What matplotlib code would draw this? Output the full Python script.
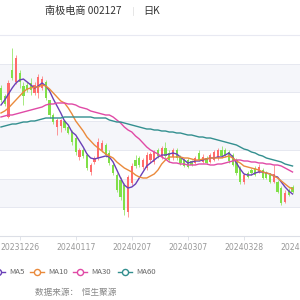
import numpy as np
import matplotlib
matplotlib.use("Agg")
import matplotlib.pyplot as plt
from matplotlib.lines import Line2D

plt.rcParams['font.family'] = ['Noto Sans CJK SC', 'DejaVu Sans']

# bar index 0 = 20231226, ticks every 15 trading days
bar_idx = np.arange(-5, 74)
tick_idx = [0, 15, 30, 45, 60, 75]
tick_labels = ["20231226", "20240117", "20240207", "20240307", "20240328", "20240419"]

opens = [4.61, 4.53, 4.32, 4.79, 4.67, 4.76, 4.63, 4.64, 4.66, 4.56,
         4.56, 4.61, 4.67, 4.49, 4.34, 4.22, 4.23, 4.28, 4.22, 4.17,
         4.11, 3.92, 3.99, 3.94, 3.77, 3.87, 3.91, 3.99, 4.04, 3.96,
         3.84, 3.74, 3.69, 3.64, 3.37, 3.66, 3.89, 3.91, 3.82, 3.81,
         3.89, 3.87, 3.99, 3.92, 4.01, 3.96, 3.92, 3.99, 3.92, 3.89,
         3.89, 3.88, 3.86, 3.96, 3.87, 3.91, 3.87, 3.89, 3.91, 3.99,
         3.99, 3.97, 3.94, 3.89, 3.81, 3.67, 3.76, 3.79, 3.81, 3.77,
         3.79, 3.76, 3.74, 3.67, 3.67, 3.61, 3.47, 3.59, 3.62]
closes = [4.49, 4.45, 4.66, 4.71, 4.91, 4.67, 4.53, 4.59, 4.59, 4.64,
          4.72, 4.70, 4.51, 4.34, 4.27, 4.29, 4.29, 4.21, 4.16, 4.07,
          3.97, 3.99, 3.93, 3.81, 3.84, 3.91, 4.07, 4.06, 3.94, 3.86,
          3.76, 3.59, 3.52, 3.39, 3.72, 3.83, 3.83, 3.84, 3.89, 3.94,
          3.95, 3.97, 3.93, 4.01, 3.93, 3.89, 3.99, 3.91, 3.86, 3.83,
          3.82, 3.84, 3.91, 3.89, 3.92, 3.86, 3.94, 3.97, 3.99, 3.93,
          3.94, 3.88, 3.84, 3.76, 3.67, 3.74, 3.72, 3.76, 3.74, 3.82,
          3.71, 3.71, 3.67, 3.75, 3.57, 3.46, 3.56, 3.54, 3.57]
highs = [4.64, 4.55, 4.69, 5.01, 4.94, 4.79, 4.67, 4.67, 4.71, 4.67,
         4.75, 4.73, 4.69, 4.49, 4.36, 4.31, 4.30, 4.29, 4.24, 4.19,
         4.13, 4.01, 4.01, 3.96, 3.86, 3.93, 4.11, 4.09, 4.06, 3.99,
         3.86, 3.76, 3.72, 3.66, 3.74, 3.86, 3.94, 3.93, 3.91, 3.97,
         3.97, 3.99, 4.01, 4.03, 4.07, 3.99, 4.01, 4.01, 3.94, 3.91,
         3.91, 3.89, 3.93, 3.99, 3.95, 3.93, 3.96, 3.99, 4.01, 4.03,
         4.01, 3.99, 3.96, 3.91, 3.83, 3.76, 3.78, 3.81, 3.83, 3.85,
         3.81, 3.78, 3.76, 3.84, 3.69, 3.63, 3.59, 3.61, 3.64]
lows = [4.47, 4.43, 4.31, 4.69, 4.65, 4.61, 4.44, 4.57, 4.54, 4.54,
        4.51, 4.59, 4.49, 4.31, 4.25, 4.14, 4.17, 4.19, 4.15, 4.04,
        3.94, 3.89, 3.91, 3.79, 3.74, 3.85, 3.89, 3.97, 3.92, 3.84,
        3.74, 3.57, 3.49, 3.34, 3.32, 3.64, 3.81, 3.82, 3.80, 3.79,
        3.86, 3.85, 3.91, 3.90, 3.91, 3.87, 3.89, 3.89, 3.84, 3.82,
        3.81, 3.83, 3.85, 3.88, 3.86, 3.85, 3.86, 3.88, 3.89, 3.91,
        3.92, 3.86, 3.83, 3.74, 3.65, 3.65, 3.71, 3.74, 3.73, 3.76,
        3.70, 3.70, 3.66, 3.66, 3.56, 3.44, 3.46, 3.53, 3.56]

ma5 = [4.44, 4.49, 4.55, 4.61, 4.66, 4.69, 4.70, 4.67, 4.64, 4.61,
       4.63, 4.66, 4.63, 4.58, 4.50, 4.43, 4.36, 4.28, 4.24, 4.17,
       4.14, 4.08, 4.02, 3.95, 3.91, 3.90, 3.91, 3.92, 3.93, 3.92,
       3.87, 3.79, 3.71, 3.64, 3.61, 3.62, 3.65, 3.71, 3.77, 3.83,
       3.86, 3.89, 3.92, 3.94, 3.94, 3.95, 3.96, 3.95, 3.92, 3.89,
       3.86, 3.87, 3.88, 3.88, 3.89, 3.90, 3.91, 3.91, 3.92, 3.92,
       3.94, 3.96, 3.92, 3.86, 3.80, 3.75, 3.74, 3.74, 3.76, 3.77,
       3.77, 3.76, 3.75, 3.73, 3.72, 3.67, 3.62, 3.58, 3.55]
ma10 = [4.36, 4.38, 4.41, 4.45, 4.49, 4.53, 4.57, 4.60, 4.61, 4.62,
        4.62, 4.64, 4.63, 4.60, 4.56, 4.52, 4.48, 4.46, 4.41, 4.35,
        4.28, 4.23, 4.18, 4.12, 4.08, 4.04, 4.01, 3.98, 3.95, 3.93,
        3.91, 3.87, 3.84, 3.81, 3.79, 3.77, 3.74, 3.72, 3.71, 3.71,
        3.73, 3.75, 3.79, 3.85, 3.89, 3.92, 3.92, 3.92, 3.92, 3.91,
        3.91, 3.90, 3.89, 3.89, 3.90, 3.90, 3.91, 3.91, 3.91, 3.91,
        3.92, 3.93, 3.91, 3.88, 3.86, 3.83, 3.82, 3.81, 3.80, 3.79,
        3.77, 3.76, 3.75, 3.73, 3.71, 3.68, 3.65, 3.62, 3.60]
ma30 = [4.32, 4.33, 4.34, 4.34, 4.35, 4.36, 4.37, 4.38, 4.39, 4.40,
        4.41, 4.42, 4.44, 4.45, 4.45, 4.46, 4.46, 4.46, 4.45, 4.45,
        4.44, 4.42, 4.41, 4.40, 4.38, 4.37, 4.36, 4.35, 4.34, 4.34,
        4.32, 4.29, 4.26, 4.22, 4.19, 4.17, 4.13, 4.10, 4.06, 4.02,
        3.99, 3.97, 3.95, 3.92, 3.90, 3.87, 3.86, 3.86, 3.85, 3.85,
        3.84, 3.84, 3.84, 3.85, 3.85, 3.85, 3.84, 3.84, 3.85, 3.85,
        3.86, 3.87, 3.88, 3.89, 3.89, 3.88, 3.88, 3.87, 3.87, 3.86,
        3.86, 3.85, 3.85, 3.84, 3.84, 3.83, 3.81, 3.79, 3.77]
ma60 = [4.22, 4.23, 4.24, 4.25, 4.25, 4.26, 4.27, 4.27, 4.28, 4.28,
        4.29, 4.30, 4.31, 4.31, 4.31, 4.31, 4.31, 4.32, 4.32, 4.32,
        4.32, 4.32, 4.32, 4.32, 4.32, 4.31, 4.31, 4.31, 4.31, 4.29,
        4.28, 4.27, 4.27, 4.26, 4.25, 4.24, 4.23, 4.22, 4.21, 4.20,
        4.20, 4.19, 4.19, 4.18, 4.18, 4.17, 4.17, 4.16, 4.16, 4.15,
        4.14, 4.14, 4.13, 4.12, 4.12, 4.11, 4.11, 4.10, 4.09, 4.08,
        4.07, 4.06, 4.05, 4.04, 4.02, 4.00, 3.99, 3.97, 3.96, 3.94,
        3.93, 3.91, 3.90, 3.89, 3.88, 3.87, 3.85, 3.84, 3.83]

ma_names = ["MA5", "MA10", "MA30", "MA60"]
ma_colors = ["#6a40b8", "#ea8a3c", "#e04aa6", "#338f8f"]
up_color = "#ff6b6b"
down_color = "#80e048"

fig = plt.figure(figsize=(3, 3), dpi=100)
ax = fig.add_axes([0, 64 / 300, 1, 201 / 300])
y_lo, y_hi = 3.13, 5.14
ax.set_ylim(y_lo, y_hi)
ax.set_xlim(-5.26, 73.68)

# striped background with grid lines
levels = np.linspace(y_lo, y_hi, 8)
for k in range(len(levels) - 1):
    if k % 2 == 1:
        ax.axhspan(levels[k], levels[k + 1], color="#f5f6fa", zorder=0, lw=0)
for lv in levels[1:]:
    ax.axhline(lv, color="#e6e8f0", lw=0.7, zorder=0.5)

# candles
for i, o, c, h, l in zip(bar_idx, opens, closes, highs, lows):
    col = up_color if c >= o else down_color
    ax.vlines(i, l, h, color=col, lw=0.7, alpha=0.7, zorder=2)
    ax.bar(i, abs(c - o) if abs(c - o) > 0.005 else 0.01, bottom=min(o, c),
           width=0.6, color=col, zorder=3, lw=0)

for vals, name, col in zip([ma5, ma10, ma30, ma60], ma_names, ma_colors):
    ax.plot(bar_idx, vals, color=col, lw=1.0, zorder=4)

for s in ["top", "right", "left"]:
    ax.spines[s].set_visible(False)
ax.spines["bottom"].set_color("#dcdfe6")
ax.spines["bottom"].set_linewidth(0.8)
ax.set_yticks([])
ax.set_xticks(tick_idx)
ax.set_xticklabels(tick_labels, fontsize=5.6, color="#999999", family="DejaVu Sans")
ax.tick_params(axis="x", length=3, width=0.6, color="#dcdfe6", pad=2)
ax.set_facecolor("white")

# overlay for title / legend / source, in pixel units
ov = fig.add_axes([0, 0, 1, 1], facecolor="none")
ov.set_xlim(0, 300)
ov.set_ylim(300, 0)
ov.axis("off")
ov.text(45, 11, "南极电商 002127", fontsize=7.3, color="#333333", va="center", ha="left")
ov.plot([133, 133], [7, 15], color="#e2e2e2", lw=0.6)
ov.text(143, 11, "日K", fontsize=7.3, color="#333333", va="center", ha="left")
ov.plot([0, 300], [35, 35], color="#e8e9f2", lw=0.8)

leg_x = [-2, 37, 80, 125]
for lx, name, col in zip(leg_x, ma_names, ma_colors):
    ov.add_line(Line2D([lx - 7, lx + 7], [272, 272], color=col, lw=1.0))
    ov.plot(lx, 272, marker="o", ms=4.4, mfc="white", mec=col, mew=1.0)
    ov.text(lx + 11, 272, name, fontsize=5.6, color="#666666", va="center", ha="left")

ov.text(35, 293, "数据来源：  恒生聚源", fontsize=6.2, color="#888888", va="center", ha="left")

fig.savefig("out.png", dpi=100)
